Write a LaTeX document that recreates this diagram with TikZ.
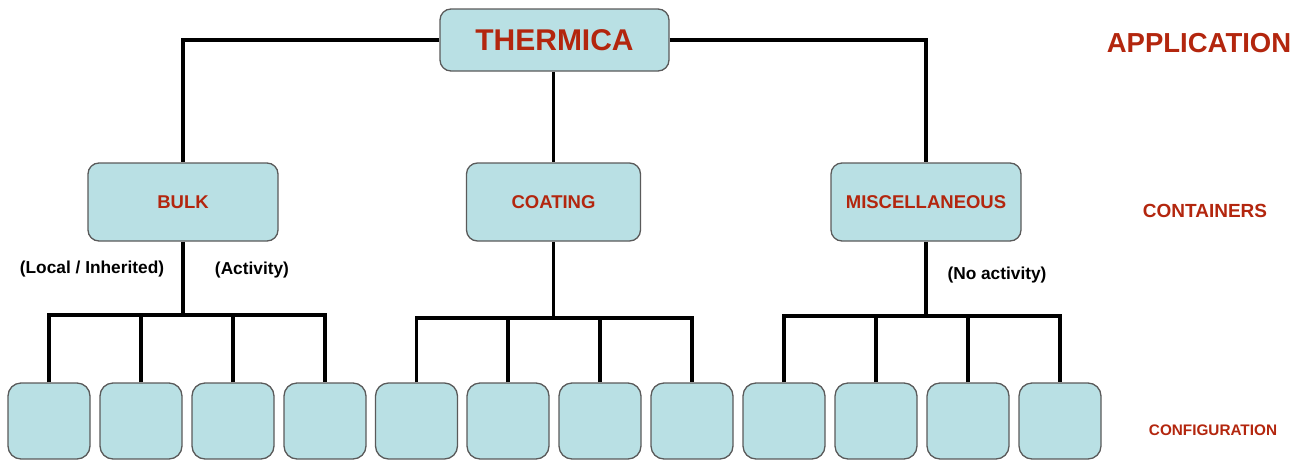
\documentclass[tikz,border=0pt]{standalone}
\usepackage{fontspec}
\setmainfont{Liberation Sans}
\definecolor{boxfill}{HTML}{B9E0E4}
\definecolor{boxline}{HTML}{5A5A5A}
\definecolor{redtxt}{HTML}{B3260E}
\begin{document}
\begin{tikzpicture}[x=1pt,y=-1pt,
  box/.style={draw=boxline,line width=1.3pt,fill=boxfill,rounded corners=11pt,inner sep=0pt,align=center,text=redtxt,font=\bfseries},
  leaf/.style={box,minimum width=82pt,minimum height=76pt,rounded corners=13pt},
  mid/.style={box,minimum height=78pt,font=\bfseries\fontsize{18.5}{20}\selectfont},
  lvl/.style={text=redtxt,font=\bfseries,inner sep=0pt},
  note/.style={font=\bfseries\fontsize{17.3}{19}\selectfont,inner sep=0pt},
  conn/.style={line width=3.2pt,black}]
\useasboundingbox (0,0) rectangle (1306,461);
% nodes
\node[box,minimum width=229pt,minimum height=62pt,font=\bfseries\fontsize{30}{32}\selectfont] (thermica) at (554.5,40) {THERMICA};
\node[mid,minimum width=190pt] (bulk) at (183,202) {BULK};
\node[mid,minimum width=174pt] (coating) at (553.5,202) {COATING};
\node[mid,minimum width=190pt] (misc) at (926,202) {MISCELLANEOUS};
\foreach \i/\x in {1/49,2/141,3/233,4/325,5/416.5,6/508,7/600,8/692,9/784,10/876,11/968,12/1060}
  \node[leaf] (l\i) at (\x,421) {};
% level labels
\node[lvl,font=\bfseries\fontsize{27.5}{30}\selectfont] (app) at (1199,43) {APPLICATION};
\node[lvl,font=\bfseries\fontsize{19}{21}\selectfont] (cont) at (1205,211) {CONTAINERS};
\node[lvl,font=\bfseries\fontsize{15.3}{17}\selectfont] (conf) at (1213,430) {CONFIGURATION};
% notes
\node[note] (n1) at (92,269) {(Local / Inherited)};
\node[note] (n2) at (252,270) {(Activity)};
\node[note] (n3) at (997,275) {(No activity)};
% top connectors
\draw[conn] (thermica.west) -| (bulk.north);
\draw[conn] (thermica.east) -| (misc.north);
\draw[conn] (thermica.south -| coating.north) -- (coating.north);
% buses
\coordinate (bb) at (183,315);
\coordinate (cb) at (553.5,318);
\coordinate (mb) at (926,316);
\draw[conn] (bulk.south) -- (bb);
\draw[conn] (coating.south) -- (cb);
\draw[conn] (misc.south) -- (mb);
\draw[conn] (l1.north) |- (l4.north |- bb) -- (l4.north);
\draw[conn] (l2.north) -- (l2.north |- bb);
\draw[conn] (l3.north) -- (l3.north |- bb);
\draw[conn] (l5.north) |- (l8.north |- cb) -- (l8.north);
\draw[conn] (l6.north) -- (l6.north |- cb);
\draw[conn] (l7.north) -- (l7.north |- cb);
\draw[conn] (l9.north) |- (l12.north |- mb) -- (l12.north);
\draw[conn] (l10.north) -- (l10.north |- mb);
\draw[conn] (l11.north) -- (l11.north |- mb);
\end{tikzpicture}
\end{document}
